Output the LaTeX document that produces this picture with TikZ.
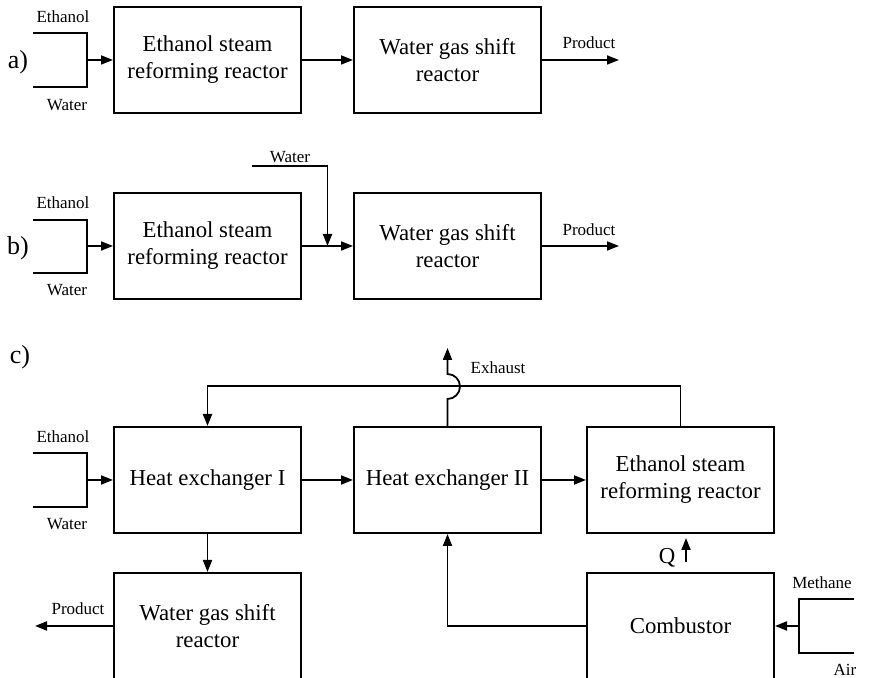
\documentclass[tikz,border=0pt]{standalone}
\usepackage{fontspec}
\setmainfont{Liberation Serif}
\usetikzlibrary{arrows.meta}

\begin{document}
\begin{tikzpicture}[x=0.5pt,y=0.5pt,
    unit/.style={draw, line width=1pt, minimum width=93.5pt, minimum height=53pt,
        align=center, inner sep=2pt, font=\fontsize{11.4}{13.5}\selectfont},
    stream/.style={line width=0.9pt},
    flow/.style={stream, -{Triangle[length=6pt,width=4.5pt]}},
    tag/.style={inner sep=0pt, font=\fontsize{8.5}{10}\selectfont},
    part/.style={inner sep=0pt, font=\fontsize{13}{15}\selectfont}]
    \useasboundingbox (0,0) rectangle (877,678);
    \clip (0,0) rectangle (877,678);

    % a)
    \node[part] (labA) at (18,616) {a)};
    \node[unit] (esrA) at (207.5,618) {Ethanol steam\\reforming reactor};
    \node[unit] (wgsA) at (447.5,618) {Water gas shift\\reactor};
    \coordinate (inA) at (87,618);
    \coordinate (prodA) at (619,618);

    \draw[stream] (33,645) -- (87,645) -- (87,591) -- (33,591);
    \draw[flow] (inA) -- (esrA.west);
    \draw[flow] (esrA.east) -- (wgsA.west);
    \draw[flow] (wgsA.east) -- (prodA);

    \node[tag] (ethA) at (63,661) {Ethanol};
    \node[tag] (watA) at (67,573) {Water};
    \node[tag] (proA) at (589,635) {Product};

    % b)
    \node[part] (labB) at (18,430) {b)};
    \node[unit] (esrB) at (207.5,432) {Ethanol steam\\reforming reactor};
    \node[unit] (wgsB) at (447.5,432) {Water gas shift\\reactor};
    \coordinate (inB) at (87,432);
    \coordinate (watInB) at (252,512);
    \coordinate (prodB) at (619,432);

    \draw[stream] (33,458) -- (87,458) -- (87,405) -- (33,405);
    \draw[flow] (inB) -- (esrB.west);
    \draw[flow] (esrB.east) -- coordinate[pos=0.5] (mixB) (wgsB.west);
    \draw[flow] (watInB) -| (mixB);
    \draw[flow] (wgsB.east) -- (prodB);

    \node[tag] (ethB) at (63,475) {Ethanol};
    \node[tag] (watB) at (67,388) {Water};
    \node[tag] (watB2) at (290,521) {Water};
    \node[tag] (proB) at (589,448) {Product};

    % c)
    \node[part] (labC) at (20,321) {c)};
    \node[unit] (hexI) at (207.5,198) {Heat exchanger I};
    \node[unit] (hexII) at (447.5,198) {Heat exchanger II};
    \node[unit] (esrC) at (680.5,198) {Ethanol steam\\reforming reactor};
    \node[unit] (wgsC) at (207.5,52) {Water gas shift\\reactor};
    \node[unit] (comb) at (680.5,52) {Combustor};
    \coordinate (inC) at (87,198);
    \coordinate (inM) at (799,52);
    \coordinate (prodC) at (35,52);
    \coordinate (exhOut) at (447.5,330);

    \draw[stream] (33,225) -- (87,225) -- (87,171) -- (33,171);
    \draw[stream] (854,79) -- (799,79) -- (799,25) -- (854,25);

    \draw[flow] (inC) -- (hexI.west);
    \draw[flow] (hexI.east) -- (hexII.west);
    \draw[flow] (hexII.east) -- (esrC.west);
    \draw[flow] (esrC.north) -- ++(0,40) -| (hexI.north);
    \draw[flow] (hexII.north) -- ++(0,27)
        arc[start angle=-90, end angle=90, radius=12.5] -- (exhOut);
    \draw[flow] (hexI.south) -- (wgsC.north);
    \draw[flow] (wgsC.west) -- (prodC);
    \draw[flow] (inM) -- (comb.east);
    \draw[flow] (comb.west) -| (hexII.south);
    \draw[flow] ([xshift=2.75pt,yshift=5pt]comb.north) -- ([xshift=2.75pt,yshift=-2pt]esrC.south);

    \node[tag] (ethC) at (63,241) {Ethanol};
    \node[tag] (watC) at (67,154) {Water};
    \node[tag] (proC) at (78,69) {Product};
    \node[tag] (exh) at (498,310) {Exhaust};
    \node[tag] (metC) at (822,95) {Methane};
    \node[tag] (airC) at (845,8) {Air};
    \node[unit, draw=none, minimum width=0pt, minimum height=0pt, inner sep=0pt] (heatQ) at (667,120) {Q};
\end{tikzpicture}
\end{document}
